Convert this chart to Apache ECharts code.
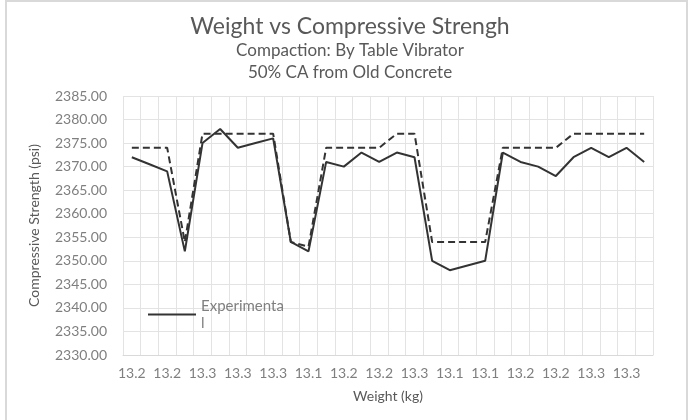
<!DOCTYPE html>
<html>
<head>
<meta charset="utf-8">
<script src="https://cdn.jsdelivr.net/npm/echarts@6/dist/echarts.min.js"></script>
<style>
	html, body { margin: 0; padding: 0; background: #fff; }
	#main { width: 693px; height: 420px; }
</style>
</head>
<body>
<div id="main"></div>
<script>
//图表数据
var weights = ['13.2', '13.2', '13.2', '13.2', '13.3', '13.3', '13.3', '13.3', '13.3', '13.2',
	'13.1', '13.1', '13.2', '13.2', '13.2', '13.2', '13.3', '13.2', '13.1', '13.1',
	'13.1', '13.1', '13.2', '13.2', '13.2', '13.2', '13.3', '13.3', '13.3', '13.3'];
var experimental = [2372, 2370.5, 2369, 2352, 2375, 2378, 2374, 2375, 2376, 2354,
	2352, 2371, 2370, 2373, 2371, 2373, 2372, 2350, 2348, 2349,
	2350, 2373, 2371, 2370, 2368, 2372, 2374, 2372, 2374, 2371];
var predicted = [2374, 2374, 2374, 2354, 2377, 2377, 2377, 2377, 2377, 2354,
	2353, 2374, 2374, 2374, 2374, 2377, 2377, 2354, 2354, 2354,
	2354, 2374, 2374, 2374, 2374, 2377, 2377, 2377, 2377, 2377];

var myChart = echarts.init(document.getElementById('main'));
var font = 'Lato, "Open Sans", sans-serif';

var option = {
	backgroundColor: '#fff',
	animation: false,
	graphic: [{
		type: 'rect',
		shape: { x: 6, y: 1, width: 681, height: 430 },
		style: { fill: 'none', stroke: '#d9d9d9', lineWidth: 2 }
	}],
	title: {
		text: 'Weight vs Compressive Strengh',
		subtext: 'Compaction: By Table Vibrator\n50% CA from Old Concrete',
		left: 345,
		textAlign: 'center',
		top: 10,
		itemGap: 2,
		textStyle: { fontFamily: font, fontSize: 23, fontWeight: 'normal', color: '#595959' },
		subtextStyle: { fontFamily: font, fontSize: 17, color: '#595959', lineHeight: 22 }
	},
	legend: {
		data: ['Experimental'],
		left: 143,
		top: 284,
		itemWidth: 48,
		itemHeight: 2,
		itemGap: 6,
		icon: 'rect',
		formatter: function() { return 'Experimenta\nl'; },
		textStyle: { fontFamily: font, fontSize: 15, color: '#7f7f7f', lineHeight: 17, padding: [17, 0, 0, 0] }
	},
	grid: { left: 123, right: 40, top: 96, bottom: 65 },
	xAxis: {
		type: 'category',
		data: weights,
		name: 'Weight (kg)',
		nameLocation: 'middle',
		nameGap: 34,
		nameTextStyle: { fontFamily: font, fontSize: 14, color: '#595959' },
		axisLine: { lineStyle: { color: '#d9d9d9' } },
		axisTick: { show: false },
		axisLabel: { interval: 1, fontFamily: font, fontSize: 14, color: '#7f7f7f', margin: 11 },
		splitLine: { show: true, interval: 0, lineStyle: { color: '#e3e3e3' } }
	},
	yAxis: {
		type: 'value',
		min: 2330,
		max: 2385,
		interval: 5,
		name: 'Compressive Strength (psi)',
		nameLocation: 'middle',
		nameGap: 82,
		nameTextStyle: { fontFamily: font, fontSize: 14, color: '#595959' },
		axisLine: { show: false },
		axisTick: { show: false },
		axisLabel: {
			fontFamily: font, fontSize: 14, color: '#7f7f7f', margin: 16,
			formatter: function(v) { return v.toFixed(2); }
		},
		splitLine: { lineStyle: { color: '#e3e3e3' } }
	},
	series: [{
		name: 'Experimental',
		type: 'line',
		data: experimental,
		symbol: 'none',
		lineStyle: { color: '#333', width: 2 },
		itemStyle: { color: '#333' },
		z: 3
	}, {
		name: 'Predicted',
		type: 'line',
		data: predicted,
		symbol: 'none',
		lineStyle: { color: '#333', width: 2, type: [7, 4] },
		itemStyle: { color: '#333' },
		z: 2
	}]
};

myChart.setOption(option);
</script>
</body>
</html>
